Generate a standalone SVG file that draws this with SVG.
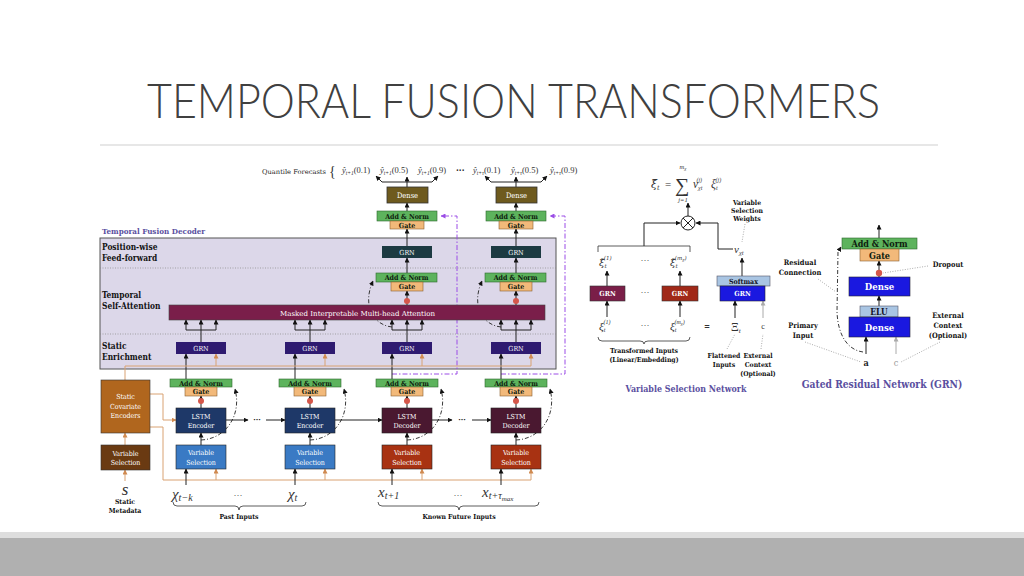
<svg xmlns="http://www.w3.org/2000/svg" width="1024" height="576" viewBox="0 0 1024 576">
<style>
.b{font-family:"DejaVu Serif Condensed","DejaVu Serif",serif;font-weight:bold;}
.r{font-family:"DejaVu Serif Condensed","DejaVu Serif",serif;}
.w{fill:#fff;font-size:7px;text-anchor:middle;}
.an{fill:#5db35d;stroke:#2e6a2e;stroke-width:0.6;}
.gate{fill:#f2b97a;stroke:#8a6030;stroke-width:0.6;}
.bt{font-size:7px;fill:#0e200e;text-anchor:middle;}
.ln{stroke:#222;stroke-width:1;fill:none;}
.or{stroke:#d9a273;stroke-width:1;fill:none;}
.gr{stroke:#aaa;stroke-width:1;fill:none;}
.dd{stroke:#222;stroke-width:0.9;fill:none;stroke-dasharray:4 2 1 2;}
.pp{stroke:#9b4de6;stroke-width:1;fill:none;stroke-dasharray:5 2 1.5 2;}
.dot{fill:#d4574a;}
.m{font-family:"Liberation Serif",serif;font-style:italic;fill:#333;}
.dm{font-family:"DejaVu Serif",serif;font-style:italic;fill:#333;}
.u{font-family:"Liberation Serif",serif;fill:#333;}
.dl{stroke:#888;stroke-width:0.7;stroke-dasharray:1 1.5;fill:none;}
.lab{font-size:8.3px;fill:#111;}
.sm{font-size:6.8px;fill:#111;text-anchor:middle;}
.gs{font-size:7.4px;fill:#111;text-anchor:middle;}
.ttl{fill:#5a4fa0;}
</style>
<defs>
<marker id="ab" viewBox="0 0 10 10" refX="9" refY="5" markerWidth="5" markerHeight="5" orient="auto" markerUnits="userSpaceOnUse"><path d="M0,0 L10,5 L0,10 z" fill="#111"/></marker>
<marker id="ao" viewBox="0 0 10 10" refX="9" refY="5" markerWidth="5" markerHeight="5" orient="auto" markerUnits="userSpaceOnUse"><path d="M0,0 L10,5 L0,10 z" fill="#d08a50"/></marker>
<marker id="ag" viewBox="0 0 10 10" refX="9" refY="5" markerWidth="5" markerHeight="5" orient="auto" markerUnits="userSpaceOnUse"><path d="M0,0 L10,5 L0,10 z" fill="#aaa"/></marker>
<marker id="ap" viewBox="0 0 10 10" refX="9" refY="5" markerWidth="5" markerHeight="5" orient="auto" markerUnits="userSpaceOnUse"><path d="M0,0 L10,5 L0,10 z" fill="#9b4de6"/></marker>
</defs>
<rect width="1024" height="576" fill="#fff"/>
<g id="title">
<text x="147" y="118" font-family="Lato,'Open Sans',sans-serif" font-weight="300" font-size="48" fill="#404040" textLength="733" lengthAdjust="spacingAndGlyphs">TEMPORAL FUSION TRANSFORMERS</text>
<line x1="100" y1="145" x2="938" y2="145" stroke="#d0d0d0" stroke-width="1.2"/>
</g>
<g id="footer">
<rect x="0" y="532" width="1024" height="6" fill="#dedede"/>
<rect x="0" y="538" width="1024" height="38" fill="#b0b0b0"/>
</g>

<g id="decoder">
<rect x="100" y="238" width="456" height="131" fill="#dcd7e9" stroke="#555" stroke-width="1"/>
<line x1="100" y1="268" x2="556" y2="268" class="dl"/>
<line x1="100" y1="334" x2="556" y2="334" class="dl"/>
<text x="102" y="234" class="b ttl" style="font-size:8px">Temporal Fusion Decoder</text>
<text x="102" y="250" class="b lab">Position-wise</text>
<text x="102" y="261" class="b lab">Feed-forward</text>
<text x="102" y="298" class="b lab">Temporal</text>
<text x="102" y="309" class="b lab">Self-Attention</text>
<text x="102" y="349" class="b lab">Static</text>
<text x="102" y="360" class="b lab">Enrichment</text>
</g>

<g id="connectors">
<path d="M407,187 V177" class="ln" marker-end="url(#ab)"/>
<path d="M382,182 H432" class="ln"/>
<path d="M382,182 L376,176" class="ln" marker-end="url(#ab)"/>
<path d="M432,182 L438,176" class="ln" marker-end="url(#ab)"/>
<path d="M516,187 V177" class="ln" marker-end="url(#ab)"/>
<path d="M491,182 H541" class="ln"/>
<path d="M491,182 L485,176" class="ln" marker-end="url(#ab)"/>
<path d="M541,182 L547,176" class="ln" marker-end="url(#ab)"/>
<path d="M407,211 V203" class="ln" marker-end="url(#ab)"/>
<path d="M516,211 V203" class="ln" marker-end="url(#ab)"/>
<path d="M407,246 V229" class="ln" marker-end="url(#ab)"/>
<path d="M516,246 V229" class="ln" marker-end="url(#ab)"/>
<path d="M407,273 V258" class="ln" marker-end="url(#ab)"/>
<path d="M516,273 V258" class="ln" marker-end="url(#ab)"/>
<path d="M407,305 V291" class="ln" marker-end="url(#ab)"/>
<path d="M516,305 V291" class="ln" marker-end="url(#ab)"/>
<path d="M201,342 V330 M186,330 H216 M310,342 V330 M295,330 H325 M407,342 V330 M392,330 H422 M516,342 V330 M501,330 H531" class="ln"/>
<path d="M186,330 V320" class="ln" marker-end="url(#ab)"/>
<path d="M201,330 V320" class="ln" marker-end="url(#ab)"/>
<path d="M216,330 V320" class="ln" marker-end="url(#ab)"/>
<path d="M295,330 V320" class="ln" marker-end="url(#ab)"/>
<path d="M310,330 V320" class="ln" marker-end="url(#ab)"/>
<path d="M325,330 V320" class="ln" marker-end="url(#ab)"/>
<path d="M392,330 V320" class="ln" marker-end="url(#ab)"/>
<path d="M407,330 V320" class="ln" marker-end="url(#ab)"/>
<path d="M422,330 V320" class="ln" marker-end="url(#ab)"/>
<path d="M501,330 V320" class="ln" marker-end="url(#ab)"/>
<path d="M516,330 V320" class="ln" marker-end="url(#ab)"/>
<path d="M531,330 V320" class="ln" marker-end="url(#ab)"/>
<path d="M392,327 C373,325 362,305 373,281" class="dd" marker-end="url(#ab)"/>
<path d="M501,327 C482,325 471,305 482,281" class="dd" marker-end="url(#ab)"/>
<path d="M392,374 H457 V216 H441" class="pp" marker-end="url(#ap)"/>
<path d="M501,374 H565 V216 H550" class="pp" marker-end="url(#ap)"/>
<path d="M186,379 V354" class="ln" marker-end="url(#ab)"/>
<path d="M295,379 V354" class="ln" marker-end="url(#ab)"/>
<path d="M392,379 V354" class="ln" marker-end="url(#ab)"/>
<path d="M501,379 V354" class="ln" marker-end="url(#ab)"/>
<path d="M125,380 V366 H531" class="or"/>
<path d="M216,366 V354" class="or" marker-end="url(#ao)"/>
<path d="M325,366 V354" class="or" marker-end="url(#ao)"/>
<path d="M422,366 V354" class="or" marker-end="url(#ao)"/>
<path d="M531,366 V354" class="or" marker-end="url(#ao)"/>
<path d="M150,394 H163 V420 H176" class="or" marker-end="url(#ao)"/>
<path d="M150,427 H163 V480 H531" class="or"/>
<path d="M216,480 V469" class="or" marker-end="url(#ao)"/>
<path d="M325,480 V469" class="or" marker-end="url(#ao)"/>
<path d="M422,480 V469" class="or" marker-end="url(#ao)"/>
<path d="M531,480 V469" class="or" marker-end="url(#ao)"/>
<path d="M125,481 V470" class="or" marker-end="url(#ao)"/>
<path d="M125,445 V433" class="or" marker-end="url(#ao)"/>
<path d="M186,485 V469" class="ln" marker-end="url(#ab)"/>
<path d="M295,485 V469" class="ln" marker-end="url(#ab)"/>
<path d="M392,485 V469" class="ln" marker-end="url(#ab)"/>
<path d="M501,485 V469" class="ln" marker-end="url(#ab)"/>
<path d="M201,445 V433" class="ln" marker-end="url(#ab)"/>
<path d="M310,445 V433" class="ln" marker-end="url(#ab)"/>
<path d="M407,445 V433" class="ln" marker-end="url(#ab)"/>
<path d="M516,445 V433" class="ln" marker-end="url(#ab)"/>
<path d="M201,408 V396" class="ln" marker-end="url(#ab)"/>
<path d="M310,408 V396" class="ln" marker-end="url(#ab)"/>
<path d="M407,408 V396" class="ln" marker-end="url(#ab)"/>
<path d="M516,408 V396" class="ln" marker-end="url(#ab)"/>
<path d="M201,440 C226,439 242,415 235,389" class="dd" marker-end="url(#ab)"/>
<path d="M310,440 C335,439 351,415 344,389" class="dd" marker-end="url(#ab)"/>
<path d="M407,440 C432,439 448,415 441,389" class="dd" marker-end="url(#ab)"/>
<path d="M516,440 C541,439 557,415 550,389" class="dd" marker-end="url(#ab)"/>
<path d="M226,420 H248" class="ln" marker-end="url(#ab)"/>
<path d="M266,420 H285" class="ln" marker-end="url(#ab)"/>
<path d="M335,420 H382" class="ln" marker-end="url(#ab)"/>
<path d="M432,420 H452" class="ln" marker-end="url(#ab)"/>
<path d="M472,420 H491" class="ln" marker-end="url(#ab)"/>
<path d="M173,502 Q173,506 177,506 H235 Q239,506 239,510 Q239,506 243,506 H302 Q306,506 306,502" stroke="#333" stroke-width="0.8" fill="none"/>
<path d="M378,502 Q378,506 382,506 H455 Q459,506 459,510 Q459,506 463,506 H535 Q539,506 539,502" stroke="#333" stroke-width="0.8" fill="none"/>
</g>

<g id="forecasts">
<text x="262" y="174" class="r" font-size="6.5" fill="#222" textLength="64" lengthAdjust="spacingAndGlyphs">Quantile Forecasts</text>
<text x="329" y="176" class="u" font-size="14" fill="#555">{</text>
<text x="342" y="173" class="m" font-size="8.5">ŷ<tspan font-size="5.5" dy="1.5">t+1</tspan><tspan font-style="normal" dy="-1.5">(0.1)</tspan></text>
<text x="380" y="173" class="m" font-size="8.5">ŷ<tspan font-size="5.5" dy="1.5">t+1</tspan><tspan font-style="normal" dy="-1.5">(0.5)</tspan></text>
<text x="418" y="173" class="m" font-size="8.5">ŷ<tspan font-size="5.5" dy="1.5">t+1</tspan><tspan font-style="normal" dy="-1.5">(0.9)</tspan></text>
<text x="456" y="173" class="b" font-size="9" fill="#222">···</text>
<text x="473" y="173" class="m" font-size="8.5">ŷ<tspan font-size="5.5" dy="1.5">t+τ</tspan><tspan font-style="normal" dy="-1.5">(0.1)</tspan></text>
<text x="511" y="173" class="m" font-size="8.5">ŷ<tspan font-size="5.5" dy="1.5">t+τ</tspan><tspan font-style="normal" dy="-1.5">(0.5)</tspan></text>
<text x="550" y="173" class="m" font-size="8.5">ŷ<tspan font-size="5.5" dy="1.5">t+τ</tspan><tspan font-style="normal" dy="-1.5">(0.9)</tspan></text>
</g>

<g id="dense1"><rect x="387" y="187" width="41" height="16" fill="#6e5a1e" stroke="#333" stroke-width="0.8"/><text x="407.5" y="197.5" class="r w" style="font-size:7.5px">Dense</text></g>
<g id="dense2"><rect x="496" y="187" width="41" height="16" fill="#6e5a1e" stroke="#333" stroke-width="0.8"/><text x="516.5" y="197.5" class="r w" style="font-size:7.5px">Dense</text></g>
<g id="outgate1"><rect x="377" y="211" width="60" height="10" class="an"/><text x="407" y="218.5" class="b bt">Add &amp; Norm</text><rect x="390" y="221" width="34" height="8" class="gate"/><text x="407" y="227.5" class="b bt">Gate</text></g>
<g id="outgate2"><rect x="486" y="211" width="60" height="10" class="an"/><text x="516" y="218.5" class="b bt">Add &amp; Norm</text><rect x="499" y="221" width="34" height="8" class="gate"/><text x="516" y="227.5" class="b bt">Gate</text></g>
<g id="ffgrn1"><rect x="382" y="246" width="50" height="12" fill="#1c3a42"/><text x="407" y="254.5" class="r w">GRN</text></g>
<g id="ffgrn2"><rect x="491" y="246" width="50" height="12" fill="#1c3a42"/><text x="516" y="254.5" class="r w">GRN</text></g>
<g id="attgate1"><rect x="376" y="273" width="61" height="9" class="an"/><text x="406.5" y="280.3" class="b bt">Add &amp; Norm</text><rect x="391" y="282" width="32" height="9" class="gate"/><text x="407" y="289.3" class="b bt">Gate</text></g>
<g id="attgate2"><rect x="485" y="273" width="61" height="9" class="an"/><text x="515.5" y="280.3" class="b bt">Add &amp; Norm</text><rect x="500" y="282" width="32" height="9" class="gate"/><text x="516" y="289.3" class="b bt">Gate</text></g>
<g id="attention"><rect x="169" y="305" width="376" height="15" fill="#7a1e4a" stroke="#444" stroke-width="0.6"/><text x="280" y="315.5" class="r" font-size="7" fill="#fff" textLength="155" lengthAdjust="spacingAndGlyphs">Masked Interpretable Multi-head Attention</text></g>
<g id="dots"><circle cx="407" cy="301" r="3" class="dot"/><circle cx="516" cy="301" r="3" class="dot"/>
<circle cx="201" cy="401" r="3" class="dot"/><circle cx="310" cy="401" r="3" class="dot"/><circle cx="407" cy="401" r="3" class="dot"/><circle cx="516" cy="401" r="3" class="dot"/></g>
<g id="segrn1"><rect x="176" y="342" width="50" height="12" fill="#2e1a70"/><text x="201" y="350.5" class="r w">GRN</text></g>
<g id="segrn2"><rect x="285" y="342" width="50" height="12" fill="#2e1a70"/><text x="310" y="350.5" class="r w">GRN</text></g>
<g id="segrn3"><rect x="382" y="342" width="50" height="12" fill="#2e1a70"/><text x="407" y="350.5" class="r w">GRN</text></g>
<g id="segrn4"><rect x="491" y="342" width="50" height="12" fill="#2e1a70"/><text x="516" y="350.5" class="r w">GRN</text></g>

<g id="lstmgate1"><rect x="170" y="379" width="62" height="8" class="an"/><text x="201" y="385.7" class="b bt">Add &amp; Norm</text><rect x="185" y="387" width="32" height="9" class="gate"/><text x="201" y="394.3" class="b bt">Gate</text></g>
<g id="lstmgate2"><rect x="279" y="379" width="62" height="8" class="an"/><text x="310" y="385.7" class="b bt">Add &amp; Norm</text><rect x="294" y="387" width="32" height="9" class="gate"/><text x="310" y="394.3" class="b bt">Gate</text></g>
<g id="lstmgate3"><rect x="376" y="379" width="62" height="8" class="an"/><text x="407" y="385.7" class="b bt">Add &amp; Norm</text><rect x="391" y="387" width="32" height="9" class="gate"/><text x="407" y="394.3" class="b bt">Gate</text></g>
<g id="lstmgate4"><rect x="485" y="379" width="62" height="8" class="an"/><text x="516" y="385.7" class="b bt">Add &amp; Norm</text><rect x="500" y="387" width="32" height="9" class="gate"/><text x="516" y="394.3" class="b bt">Gate</text></g>

<g id="lstm1"><rect x="176" y="408" width="50" height="25" fill="#1e3868" stroke="#222" stroke-width="0.6"/><text x="201" y="418.5" class="r w">LSTM</text><text x="201" y="428" class="r w">Encoder</text></g>
<g id="lstm2"><rect x="285" y="408" width="50" height="25" fill="#1e3868" stroke="#222" stroke-width="0.6"/><text x="310" y="418.5" class="r w">LSTM</text><text x="310" y="428" class="r w">Encoder</text></g>
<g id="lstm3"><rect x="382" y="408" width="50" height="25" fill="#4a1830" stroke="#222" stroke-width="0.6"/><text x="407" y="418.5" class="r w">LSTM</text><text x="407" y="428" class="r w">Decoder</text></g>
<g id="lstm4"><rect x="491" y="408" width="50" height="25" fill="#4a1830" stroke="#222" stroke-width="0.6"/><text x="516" y="418.5" class="r w">LSTM</text><text x="516" y="428" class="r w">Decoder</text></g>
<text x="257" y="422" class="b" font-size="8" fill="#222" text-anchor="middle">···</text>
<text x="462" y="422" class="b" font-size="8" fill="#222" text-anchor="middle">···</text>

<g id="vs1"><rect x="176" y="445" width="50" height="24" fill="#3a7ac4" stroke="#222" stroke-width="0.6"/><text x="201" y="455" class="r w">Variable</text><text x="201" y="464.5" class="r w">Selection</text></g>
<g id="vs2"><rect x="285" y="445" width="50" height="24" fill="#3a7ac4" stroke="#222" stroke-width="0.6"/><text x="310" y="455" class="r w">Variable</text><text x="310" y="464.5" class="r w">Selection</text></g>
<g id="vs3"><rect x="382" y="445" width="50" height="24" fill="#a83212" stroke="#222" stroke-width="0.6"/><text x="407" y="455" class="r w">Variable</text><text x="407" y="464.5" class="r w">Selection</text></g>
<g id="vs4"><rect x="491" y="445" width="50" height="24" fill="#a83212" stroke="#222" stroke-width="0.6"/><text x="516" y="455" class="r w">Variable</text><text x="516" y="464.5" class="r w">Selection</text></g>

<g id="sce"><rect x="101" y="380" width="49" height="53" fill="#b0661e" stroke="#333" stroke-width="0.6"/><text x="125.5" y="399" class="r w">Static</text><text x="125.5" y="408.5" class="r w">Covariate</text><text x="125.5" y="418" class="r w">Encoders</text></g>
<g id="vs0"><rect x="101" y="445" width="49" height="25" fill="#6a3a12" stroke="#333" stroke-width="0.6"/><text x="125.5" y="455.5" class="r w">Variable</text><text x="125.5" y="465" class="r w">Selection</text></g>
<g id="static-in"><text x="125" y="495" class="m" font-size="17" text-anchor="middle">s</text><text x="125" y="504" class="b sm">Static</text><text x="125" y="513" class="b sm">Metadata</text></g>

<g id="inputs">
<text x="172" y="499" class="m" font-size="15">χ<tspan font-size="10" dy="2">t−k</tspan></text>
<text x="238" y="498" class="u" font-size="9" text-anchor="middle">···</text>
<text x="288" y="499" class="m" font-size="15">χ<tspan font-size="10" dy="2">t</tspan></text>
<text x="378" y="497" class="m" font-size="15">x<tspan font-size="10" dy="2">t+1</tspan></text>
<text x="458" y="498" class="u" font-size="9" text-anchor="middle">···</text>
<text x="482" y="497" class="m" font-size="15">x<tspan font-size="10" dy="2">t+τ</tspan><tspan font-size="7" dy="2">max</tspan></text>
<text x="239" y="519" class="b sm">Past Inputs</text>
<text x="459" y="519" class="b sm">Known Future Inputs</text>
</g>

<g id="vsn-formula">
<text x="651" y="188" class="dm" font-size="11">ξ̃<tspan font-size="6.5" dy="2">t</tspan></text>
<text x="665" y="188" class="u" font-size="11">=</text>
<text x="675" y="192" class="u" font-size="20">∑</text>
<text x="683" y="169" class="m" font-size="6.5" text-anchor="middle">m<tspan font-size="5" dy="1">χ</tspan></text>
<text x="683" y="202" class="m" font-size="6.5" text-anchor="middle">j=1</text>
<text x="693" y="188" class="m" font-size="11.5">v<tspan font-size="6" dy="2">χt</tspan><tspan font-size="6" dx="-6" dy="-8">(j)</tspan></text>
<text x="711" y="188" class="m" font-size="11.5">ξ<tspan font-size="6" dy="2">t</tspan><tspan font-size="6" dx="-2" dy="-8">(j)</tspan></text>
</g>
<g id="vsn-connectors">
<path d="M688,216 V203" class="ln" marker-end="url(#ab)"/>
<path d="M598,252 V246 H690 V252" stroke="#333" stroke-width="0.8" fill="none"/>
<path d="M644,246 V223 H680" class="ln" marker-end="url(#ab)"/>
<path d="M733,249 H718 V223 H696" class="ln" marker-end="url(#ab)"/>
<path d="M742,276 V258" class="ln" marker-end="url(#ab)"/>
<path d="M607,286 V271" class="ln" marker-end="url(#ab)"/>
<path d="M680,286 V271" class="ln" marker-end="url(#ab)"/>
<path d="M607,317 V301" class="ln" marker-end="url(#ab)"/>
<path d="M680,317 V301" class="ln" marker-end="url(#ab)"/>
<path d="M735,318 V301" class="ln" marker-end="url(#ab)"/>
<path d="M763,318 V301" class="gr" marker-end="url(#ag)"/>
<path d="M598,337 Q598,341 602,341 H640 Q644,341 644,344 Q644,341 648,341 H686 Q690,341 690,337" stroke="#333" stroke-width="0.8" fill="none"/>
<path d="M745,224 L742,242" class="dl"/>
<path d="M727,349 L735,334" class="dl"/>
<path d="M761,349 L763,334" class="dl"/>
</g>
<g id="vsn-mult"><circle cx="688" cy="223" r="7" fill="#fff" stroke="#222" stroke-width="1"/><path d="M683,218 L693,228 M693,218 L683,228" stroke="#222" stroke-width="1"/></g>
<g id="vsn-labels">
<text x="747" y="205" class="b sm">Variable</text>
<text x="747" y="213" class="b sm">Selection</text>
<text x="747" y="221" class="b sm">Weights</text>
<text x="734" y="253" class="m" font-size="11">v<tspan font-size="6.5" dy="2">χt</tspan></text>
<text x="599" y="266" class="dm" font-size="10">ξ̃<tspan font-size="5.5" dy="2">t</tspan><tspan font-size="5.5" dx="-3" dy="-8">(1)</tspan></text>
<text x="645" y="263" class="u" font-size="9" text-anchor="middle">···</text>
<text x="670" y="266" class="dm" font-size="10">ξ̃<tspan font-size="5.5" dy="2">t</tspan><tspan font-size="5.5" dx="-3" dy="-8">(m</tspan><tspan font-size="4" dy="1">χ</tspan><tspan font-size="5.5" dy="-1">)</tspan></text>
<text x="599" y="330" class="m" font-size="11">ξ<tspan font-size="6" dy="2">t</tspan><tspan font-size="6" dx="-2" dy="-8">(1)</tspan></text>
<text x="645" y="328" class="u" font-size="9" text-anchor="middle">···</text>
<text x="670" y="330" class="m" font-size="11">ξ<tspan font-size="6" dy="2">t</tspan><tspan font-size="6" dx="-2" dy="-8">(m</tspan><tspan font-size="4.5" dy="1">χ</tspan><tspan font-size="6" dy="-1">)</tspan></text>
<text x="707" y="329" class="b" font-size="8" fill="#333" text-anchor="middle">=</text>
<text x="731" y="331" class="u" font-size="12">Ξ<tspan class="m" font-size="7" dy="2">t</tspan></text>
<text x="763" y="329" class="u" font-size="8" fill="#999" text-anchor="middle">c</text>
<text x="644" y="353" class="b sm">Transformed Inputs</text>
<text x="644" y="362" class="b sm">(Linear/Embedding)</text>
<text x="724" y="358" class="b sm">Flattened</text>
<text x="724" y="367" class="b sm">Inputs</text>
<text x="758" y="358" class="b sm">External</text>
<text x="758" y="367" class="b sm">Context</text>
<text x="758" y="376" class="b sm">(Optional)</text>
<text x="686" y="392" class="b ttl" style="font-size:8.8px" text-anchor="middle">Variable Selection Network</text>
</g>
<g id="vsn-grn1"><rect x="590" y="286" width="35" height="15" fill="#7a1e48" stroke="#333" stroke-width="0.6"/><text x="607.5" y="296" class="b w">GRN</text></g>
<text x="645" y="295" class="u" font-size="9" text-anchor="middle">···</text>
<g id="vsn-grn2"><rect x="662" y="286" width="36" height="15" fill="#a02818" stroke="#333" stroke-width="0.6"/><text x="680" y="296" class="b w">GRN</text></g>
<g id="vsn-softmax"><rect x="717" y="276" width="53" height="10" fill="#a9c5e3" stroke="#556" stroke-width="0.6"/><text x="743.5" y="283.7" class="b bt" style="fill:#112">Softmax</text></g>
<g id="vsn-grn3"><rect x="720" y="286" width="45" height="15" fill="#1a18e0" stroke="#223" stroke-width="0.6"/><text x="742.5" y="296" class="b w">GRN</text></g>

<g id="grn-connectors">
<path d="M879,238 V225" class="ln" marker-end="url(#ab)"/>
<path d="M879,277 V261" class="ln" marker-end="url(#ab)"/>
<path d="M879,306 V296" class="ln" marker-end="url(#ab)"/>
<path d="M866,354 V337" class="ln" marker-end="url(#ab)"/>
<path d="M896,354 V337" class="gr" marker-end="url(#ag)"/>
<path d="M863,352 C848,350 838,336 837,312 L838,252 L841,247" class="dd" marker-end="url(#ab)"/>
<path d="M818,279 L836,292" class="dl"/>
<path d="M928,266 L883,273" class="dl"/>
<path d="M805,342 L861,362" class="dl"/>
<path d="M940,342 L901,362" class="dl"/>
</g>
<g id="grn-addnorm"><rect x="842" y="238" width="75" height="11" class="an"/><text x="879.5" y="247" class="b bt" style="font-size:9px">Add &amp; Norm</text></g>
<g id="grn-gate"><rect x="860" y="249" width="39" height="12" class="gate"/><text x="879.5" y="258.5" class="b bt" style="font-size:9px">Gate</text></g>
<circle cx="879" cy="273" r="3.2" class="dot"/>
<g id="grn-dense2"><rect x="849" y="277" width="61" height="19" fill="#1a18e0" stroke="#223" stroke-width="0.6"/><text x="879.5" y="290" class="b w" style="font-size:9.5px">Dense</text></g>
<g id="grn-elu"><rect x="860" y="306" width="38" height="11" fill="#a9c5e3" stroke="#556" stroke-width="0.6"/><text x="879" y="315" class="b bt" style="font-size:8.5px;fill:#112">ELU</text></g>
<g id="grn-dense1"><rect x="849" y="317" width="61" height="20" fill="#1a18e0" stroke="#223" stroke-width="0.6"/><text x="879.5" y="330.5" class="b w" style="font-size:9.5px">Dense</text></g>
<g id="grn-labels">
<text x="866" y="366" class="b" font-size="9" fill="#222" text-anchor="middle">a</text>
<text x="896" y="366" class="r" font-size="9" fill="#999" text-anchor="middle">c</text>
<text x="800" y="265" class="b gs">Residual</text>
<text x="800" y="275" class="b gs">Connection</text>
<text x="948" y="267" class="b gs">Dropout</text>
<text x="803" y="328" class="b gs">Primary</text>
<text x="803" y="338" class="b gs">Input</text>
<text x="948" y="318" class="b gs">External</text>
<text x="948" y="328" class="b gs">Context</text>
<text x="948" y="338" class="b gs">(Optional)</text>
<text x="882" y="388" class="b ttl" style="font-size:10.2px" text-anchor="middle">Gated Residual Network (GRN)</text>
</g>
</svg>
